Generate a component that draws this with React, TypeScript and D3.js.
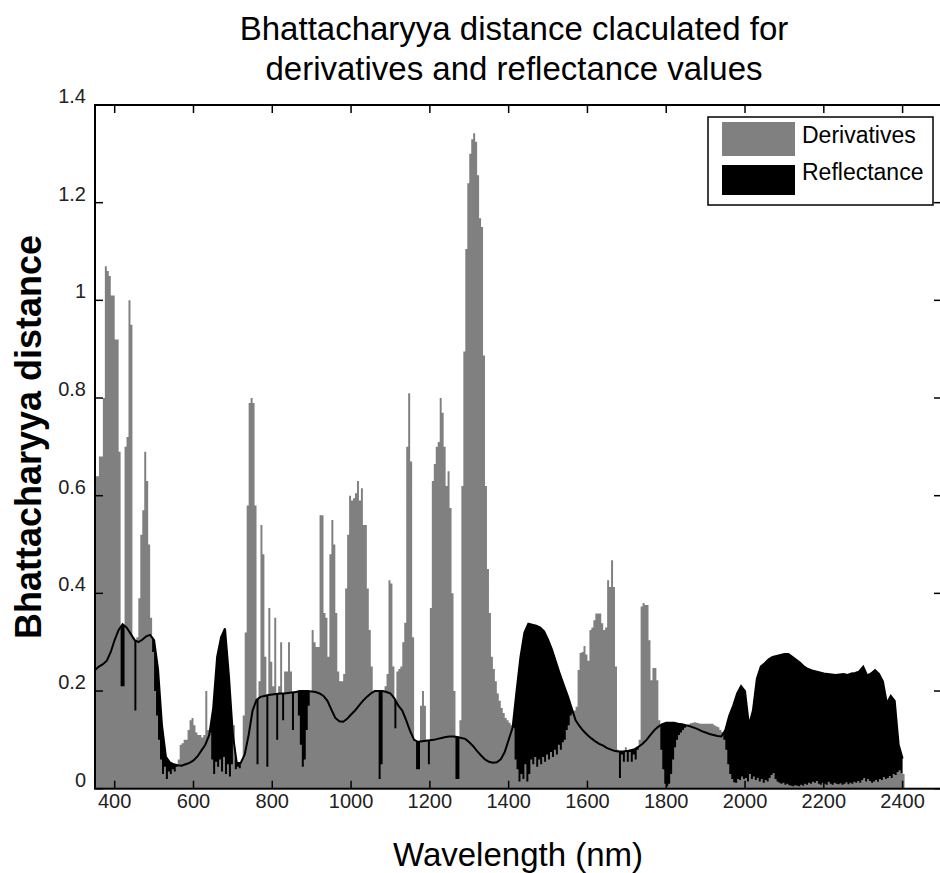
import React from 'react';
import * as d3 from 'd3';

// Wavelength grid (nm)
const WL_START = 350;
const DERIV_STEP = 5;
const REFL_STEP = 10;

// Bhattacharyya distance of the first-derivative spectra, 350–2400 nm every 5 nm
const derivatives: number[] = [
  0.64, 0.64, 0.68, 0.68, 0.80, 1.07, 1.06, 1.05, 1.01, 1.01, // 350
  0.92, 0.92, 0.69, 0.21, 0.21, 0.70, 0.72, 1.00, 0.95, 0.31, // 400
  0.16, 0.31, 0.39, 0.52, 0.57, 0.69, 0.63, 0.50, 0.35, 0.28, // 450
  0.20, 0.15, 0.10, 0.06, 0.03, 0.045, 0.02, 0.035, 0.03, 0.04, // 500
  0.035, 0.045, 0.06, 0.09, 0.093, 0.10, 0.10, 0.12, 0.14, 0.145, // 550
  0.13, 0.115, 0.11, 0.11, 0.105, 0.11, 0.20, 0.12, 0.115, 0.06, // 600
  0.03, 0.055, 0.045, 0.06, 0.035, 0.065, 0.03, 0.05, 0.025, 0.05, // 650
  0.13, 0.04, 0.045, 0.042, 0.06, 0.15, 0.32, 0.58, 0.79, 0.80, // 700
  0.79, 0.58, 0.05, 0.22, 0.54, 0.48, 0.27, 0.045, 0.37, 0.26, // 750
  0.21, 0.35, 0.10, 0.21, 0.30, 0.14, 0.24, 0.24, 0.30, 0.24, // 800
  0.12, 0.20, 0.20, 0.15, 0.09, 0.045, 0.06, 0.12, 0.17, 0.20, // 850
  0.325, 0.30, 0.29, 0.29, 0.56, 0.56, 0.36, 0.35, 0.27, 0.48, // 900
  0.55, 0.50, 0.36, 0.24, 0.22, 0.22, 0.235, 0.41, 0.52, 0.60, // 950
  0.59, 0.595, 0.605, 0.63, 0.59, 0.615, 0.54, 0.54, 0.41, 0.325, // 1000
  0.25, 0.20, 0.20, 0.20, 0.02, 0.05, 0.20, 0.21, 0.235, 0.427, // 1050
  0.42, 0.25, 0.124, 0.24, 0.245, 0.25, 0.30, 0.34, 0.70, 0.81, // 1100
  0.67, 0.31, 0.10, 0.04, 0.04, 0.17, 0.20, 0.17, 0.10, 0.05, // 1150
  0.37, 0.63, 0.665, 0.70, 0.71, 0.80, 0.77, 0.70, 0.62, 0.65, // 1200
  0.575, 0.40, 0.20, 0.02, 0.02, 0.14, 0.62, 0.895, 1.105, 1.24, // 1250
  1.30, 1.33, 1.342, 1.325, 1.256, 1.168, 1.15, 0.887, 0.62, 0.45, // 1300
  0.36, 0.27, 0.245, 0.22, 0.195, 0.18, 0.165, 0.155, 0.145, 0.14, // 1350
  0.135, 0.13, 0.125, 0.06, 0.04, 0.015, 0.03, 0.02, 0.05, 0.015, // 1400
  0.03, 0.06, 0.05, 0.065, 0.045, 0.06, 0.05, 0.065, 0.055, 0.07, // 1450
  0.06, 0.075, 0.065, 0.08, 0.07, 0.09, 0.08, 0.095, 0.10, 0.12, // 1500
  0.13, 0.15, 0.155, 0.16, 0.168, 0.243, 0.278, 0.28, 0.292, 0.275, // 1550
  0.262, 0.325, 0.33, 0.345, 0.359, 0.359, 0.359, 0.339, 0.325, 0.33, // 1600
  0.427, 0.413, 0.468, 0.413, 0.25, 0.08, 0.022, 0.07, 0.055, 0.085, // 1650
  0.055, 0.075, 0.055, 0.07, 0.06, 0.08, 0.10, 0.373, 0.38, 0.376, // 1700
  0.376, 0.304, 0.222, 0.247, 0.247, 0.222, 0.14, 0.08, 0.04, 0.01, // 1750
  0.005, 0.01, 0.03, 0.06, 0.085, 0.10, 0.11, 0.115, 0.12, 0.125, // 1800
  0.13, 0.132, 0.134, 0.135, 0.136, 0.135, 0.134, 0.133, 0.133, 0.133, // 1850
  0.133, 0.133, 0.133, 0.133, 0.13, 0.128, 0.126, 0.12, 0.116, 0.10, // 1900
  0.08, 0.05, 0.03, 0.02, 0.013, 0.012, 0.02, 0.018, 0.025, 0.02, // 1950
  0.022, 0.015, 0.03, 0.02, 0.025, 0.018, 0.022, 0.015, 0.02, 0.012, // 2000
  0.018, 0.015, 0.022, 0.028, 0.032, 0.02, 0.015, 0.012, 0.01, 0.012, // 2050
  0.008, 0.01, 0.007, 0.006, 0.005, 0.007, 0.006, 0.005, 0.008, 0.006, // 2100
  0.01, 0.008, 0.012, 0.01, 0.014, 0.012, 0.016, 0.01, 0.008, 0.012, // 2150
  0.01, 0.008, 0.014, 0.01, 0.008, 0.012, 0.01, 0.009, 0.011, 0.008, // 2200
  0.01, 0.013, 0.009, 0.012, 0.01, 0.014, 0.012, 0.016, 0.012, 0.018, // 2250
  0.022, 0.015, 0.02, 0.016, 0.012, 0.015, 0.018, 0.014, 0.02, 0.018, // 2300
  0.024, 0.02, 0.022, 0.026, 0.022, 0.03, 0.028, 0.034, 0.038, 0.032, // 2350
  0.03, // 2400
];

// Bhattacharyya distance of the reflectance spectra, 350–2400 nm every 10 nm
const reflectance: number[] = [
  0.243, 0.25, 0.255, 0.262, 0.28, 0.305, 0.325, 0.337, 0.33, 0.318, // 350
  0.305, 0.30, 0.305, 0.312, 0.315, 0.304, 0.245, 0.13, 0.065, 0.054, // 450
  0.05, 0.048, 0.047, 0.05, 0.053, 0.058, 0.066, 0.078, 0.09, 0.11, // 550
  0.165, 0.27, 0.31, 0.328, 0.23, 0.11, 0.052, 0.053, 0.07, 0.11, // 650
  0.16, 0.182, 0.188, 0.19, 0.192, 0.193, 0.194, 0.195, 0.195, 0.196, // 750
  0.197, 0.198, 0.2, 0.2, 0.2, 0.199, 0.198, 0.195, 0.19, 0.18, // 850
  0.162, 0.145, 0.138, 0.137, 0.143, 0.152, 0.16, 0.17, 0.18, 0.188, // 950
  0.195, 0.2, 0.2, 0.2, 0.198, 0.195, 0.185, 0.17, 0.16, 0.14, // 1050
  0.118, 0.1, 0.096, 0.097, 0.098, 0.099, 0.1, 0.102, 0.104, 0.106, // 1150
  0.107, 0.107, 0.106, 0.104, 0.102, 0.095, 0.087, 0.077, 0.068, 0.06, // 1250
  0.055, 0.053, 0.054, 0.06, 0.075, 0.1, 0.125, 0.2, 0.27, 0.32, // 1350
  0.338, 0.336, 0.334, 0.33, 0.322, 0.305, 0.285, 0.26, 0.235, 0.212, // 1450
  0.19, 0.165, 0.14, 0.128, 0.118, 0.11, 0.103, 0.097, 0.092, 0.088, // 1550
  0.083, 0.08, 0.077, 0.076, 0.076, 0.077, 0.079, 0.081, 0.086, 0.092, // 1650
  0.1, 0.11, 0.12, 0.127, 0.132, 0.135, 0.135, 0.135, 0.133, 0.132, // 1750
  0.13, 0.128, 0.125, 0.122, 0.118, 0.115, 0.112, 0.11, 0.108, 0.107, // 1850
  0.12, 0.15, 0.17, 0.195, 0.21, 0.2, 0.13, 0.16, 0.225, 0.25, // 1950
  0.257, 0.265, 0.27, 0.272, 0.274, 0.276, 0.276, 0.27, 0.264, 0.258, // 2050
  0.25, 0.245, 0.242, 0.24, 0.238, 0.236, 0.235, 0.234, 0.233, 0.234, // 2150
  0.235, 0.233, 0.236, 0.237, 0.24, 0.25, 0.232, 0.236, 0.243, 0.235, // 2250
  0.22, 0.175, 0.19, 0.18, 0.09, 0.062, // 2350
];

const xTicks = [400, 600, 800, 1000, 1200, 1400, 1600, 1800, 2000, 2200, 2400];
const yTicks = [0, 0.2, 0.4, 0.6, 0.8, 1, 1.2, 1.4];
const yTickLabels = ['0', '0.2', '0.4', '0.6', '0.8', '1', '1.2', '1.4'];
const legendItems = [
  { label: 'Derivatives', color: '#808080' },
  { label: 'Reflectance', color: '#000000' },
];

const FONT = "'Liberation Sans', Arial, Helvetica, sans-serif";
const GRAY = '#808080';

export default function App() {
  const W = 940;
  const H = 873;
  const left = 95;
  const right = 942;
  const top = 105;
  const bottom = 788.7;
  const tickLen = 8;

  const x = d3.scaleLinear().domain([350, 2500]).range([left, right]);
  const y = d3.scaleLinear().domain([0, 1.4]).range([bottom, top]);

  const derivPts: [number, number][] = derivatives.map((v, i) => [WL_START + i * DERIV_STEP, v]);
  // each sample is a bar covering [wl, wl + step)
  derivPts.push([WL_START + derivatives.length * DERIV_STEP, derivatives[derivatives.length - 1]]);
  const reflPts: [number, number][] = reflectance.map((v, i) => [WL_START + i * REFL_STEP, v]);

  const derivArea = d3
    .area<[number, number]>()
    .x((d) => x(d[0]))
    .y0(y(0))
    .y1((d) => y(d[1]))
    .curve(d3.curveStepAfter);

  const reflArea = d3
    .area<[number, number]>()
    .x((d) => x(d[0]))
    .y0(y(0))
    .y1((d) => y(d[1]));

  const reflLine = d3
    .line<[number, number]>()
    .x((d) => x(d[0]))
    .y((d) => y(d[1]));

  return (
    <svg
      width={W}
      height={H}
      style={{ position: 'absolute', left: 0, top: 0, background: '#fff', overflow: 'hidden' }}
    >
      <defs>
        <clipPath id="plot-clip">
          <rect x={left} y={top} width={right - left} height={bottom - top} />
        </clipPath>
      </defs>

      {/* title */}
      <text x={514} y={40} textAnchor="middle" fontFamily={FONT} fontSize={33} fill="#000">
        Bhattacharyya distance claculated for
      </text>
      <text x={514} y={80} textAnchor="middle" fontFamily={FONT} fontSize={33} fill="#000">
        derivatives and reflectance values
      </text>

      <g clipPath="url(#plot-clip)">
        <path d={reflArea(reflPts) ?? ''} fill="#000" />
        <path d={derivArea(derivPts) ?? ''} fill={GRAY} />
        <path d={reflLine(reflPts) ?? ''} fill="none" stroke="#000" strokeWidth={2} />
      </g>

      {/* axes box */}
      <rect x={left} y={top} width={right - left} height={bottom - top} fill="none" stroke="#000" strokeWidth={2} />

      {xTicks.map((t) => (
        <g key={`x${t}`}>
          <line x1={x(t)} x2={x(t)} y1={bottom} y2={bottom - tickLen} stroke="#000" strokeWidth={1.5} />
          <line x1={x(t)} x2={x(t)} y1={top} y2={top + tickLen} stroke="#000" strokeWidth={1.5} />
          <text x={x(t)} y={808} textAnchor="middle" fontFamily={FONT} fontSize={20} fill="#222">
            {t}
          </text>
        </g>
      ))}

      {yTicks.map((t, i) => (
        <g key={`y${t}`}>
          <line x1={left} x2={left + tickLen} y1={y(t)} y2={y(t)} stroke="#000" strokeWidth={1.5} />
          <line x1={right} x2={right - tickLen} y1={y(t)} y2={y(t)} stroke="#000" strokeWidth={1.5} />
          <text x={86} y={y(t) - 2} textAnchor="end" fontFamily={FONT} fontSize={20} fill="#222">
            {yTickLabels[i]}
          </text>
        </g>
      ))}

      {/* axis labels */}
      <text x={518} y={866} textAnchor="middle" fontFamily={FONT} fontSize={33} fill="#000">
        Wavelength (nm)
      </text>
      <text
        transform="translate(41,437) rotate(-90)"
        textAnchor="middle"
        fontFamily={FONT}
        fontSize={36}
        fontWeight="bold"
        fill="#000"
      >
        Bhattacharyya distance
      </text>

      {/* legend */}
      <g>
        <rect x={708} y={117} width={225} height={88} fill="#fff" stroke="#000" strokeWidth={1.5} />
        {legendItems.map((item, i) => (
          <g key={item.label}>
            <rect x={722} y={122 + i * 43} width={73} height={i === 0 ? 34 : 30} fill={item.color} />
            <text x={802} y={143 + i * 37} fontFamily={FONT} fontSize={23} fill="#000">
              {item.label}
            </text>
          </g>
        ))}
      </g>
    </svg>
  );
}
